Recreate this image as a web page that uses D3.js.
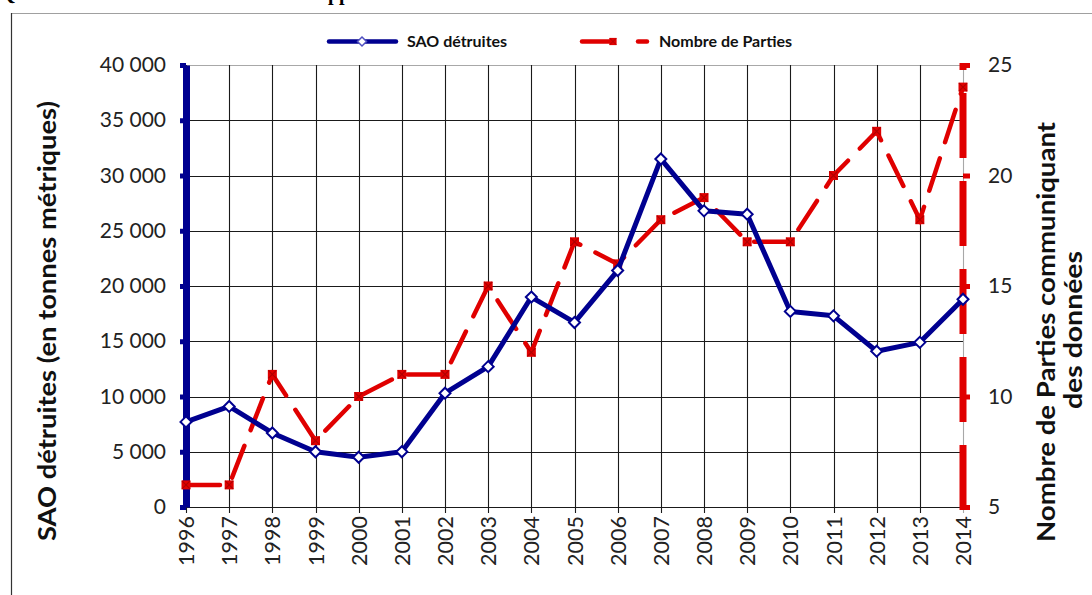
<!DOCTYPE html>
<html><head><meta charset="utf-8">
<script src="https://cdn.jsdelivr.net/npm/d3@7"></script>
<style>
body{margin:0;background:#fff;}
svg{display:block;}
</style></head>
<body>
<svg id="c" width="1092" height="595"></svg>
<script>
const years = ["1996","1997","1998","1999","2000","2001","2002","2003","2004","2005","2006","2007","2008","2009","2010","2011","2012","2013","2014"];
const saoDetruites = [7700,9100,6700,5000,4500,5000,10300,12700,19000,16700,21400,31500,26800,26500,17700,17300,14100,14900,18800];
const nombreParties = [6,6,11,8,10,11,11,15,12,17,16,18,19,17,17,20,22,18,24];
const leftTicks = [0,5000,10000,15000,20000,25000,30000,35000,40000];
const rightTicks = [5,10,15,20,25];
const seriesNames = ["SAO détruites","Nombre de Parties"];
const leftTitle = "SAO détruites (en tonnes métriques)";
const rightTitle = ["Nombre de Parties communiquant","des données"];

const NAVY = "#000090", RED = "#e00000";
const FONT = "Lato, 'Open Sans', sans-serif";
const svg = d3.select("#c");

const x = d3.scalePoint().domain(years).range([186, 963]);
const yL = d3.scaleLinear().domain([0, 40000]).range([507, 65]);
const yR = d3.scaleLinear().domain([5, 25]).range([507, 65]);

// partially clipped title (as in the reference)
svg.append("text").attr("x", 0).attr("y", 0).attr("font-family","'Liberation Serif',serif").attr("font-weight","bold").attr("font-size",20).text("Q");
svg.append("text").attr("x", 328).attr("y", 0).attr("font-family","'Liberation Serif',serif").attr("font-weight","bold").attr("font-size",20).text("pp");

// frame
svg.append("line").attr("x1",11).attr("x2",1092).attr("y1",13.5).attr("y2",13.5).attr("stroke","#a0a0a0").attr("stroke-width",1.2);
svg.append("line").attr("x1",11.5).attr("x2",11.5).attr("y1",13).attr("y2",595).attr("stroke","#333").attr("stroke-width",1.2);

// grid
const g = svg.append("g");
g.selectAll("line.h").data(leftTicks).join("line")
  .attr("x1", x("1996")).attr("x2", x("2014"))
  .attr("y1", d => Math.round(yL(d))+0.5).attr("y2", d => Math.round(yL(d))+0.5)
  .attr("stroke", d => d === 40000 ? "#a8a8a8" : "#1a1a1a").attr("stroke-width", 1.1);
g.selectAll("line.v").data(years).join("line")
  .attr("x1", d => Math.round(x(d))+0.5).attr("x2", d => Math.round(x(d))+0.5)
  .attr("y1", yL(40000)).attr("y2", yL(0)+6)
  .attr("stroke", d => d === "2014" ? "#a8a8a8" : "#1a1a1a").attr("stroke-width", 1.1);

// left axis (thick navy)
const axL = svg.append("g").attr("transform", `translate(${x("1996")},0)`)
  .call(d3.axisLeft(yL).tickValues(leftTicks).tickSize(5).tickSizeOuter(0)
    .tickFormat(d => d3.format(",")(d).replace(/,/g, "\u202F")));
axL.select(".domain").attr("stroke", NAVY).attr("stroke-width", 7);
axL.selectAll(".tick line").attr("stroke", NAVY).attr("stroke-width", 5).attr("x2", -6);
axL.selectAll(".tick text").attr("x", -20).attr("font-family", FONT).attr("font-size", 21).attr("fill", "#222");

// right axis (thick red dashed)
svg.append("path").attr("d", d3.line()([[x("2014"), yR(5)+3], [x("2014"), yR(25)-2]]))
  .attr("stroke", RED).attr("stroke-width", 7).attr("stroke-dasharray", "65,23").attr("fill", "none");
const axR = svg.append("g").attr("transform", `translate(${x("2014")},0)`)
  .call(d3.axisRight(yR).tickValues(rightTicks).tickSize(7).tickSizeOuter(0));
axR.select(".domain").remove();
axR.selectAll(".tick line").attr("stroke", RED).attr("stroke-width", 5);
axR.selectAll(".tick text").attr("x", 25).attr("font-family", FONT).attr("font-size", 21).attr("fill", "#222");

// x axis labels
const axB = svg.append("g").attr("transform", `translate(0,${yL(0)})`)
  .call(d3.axisBottom(x).tickSize(0));
axB.select(".domain").remove();
axB.selectAll(".tick text").attr("font-family", FONT).attr("font-size", 21.5).attr("fill", "#222")
  .attr("transform", "rotate(-90)").attr("text-anchor", "end").attr("dy", "0.35em").attr("x", -9).attr("y", 0);

// red series
const redLine = d3.line().x((d,i) => x(years[i])).y(d => yR(d));
svg.append("path").datum(nombreParties).attr("d", redLine)
  .attr("fill","none").attr("stroke", RED).attr("stroke-width", 4.5)
  .attr("stroke-dasharray","34,17").attr("stroke-linecap","round");
function redMarker(sel){
  sel.append("rect").attr("x",-4.5).attr("y",-4.5).attr("width",9).attr("height",9).attr("fill",RED);
  sel.append("path").attr("d","M-4,-4L4,4M4,-4L-4,4").attr("stroke","#b00000").attr("stroke-width",1.2);
}
svg.selectAll("g.rm").data(nombreParties).join("g")
  .attr("transform",(d,i)=>`translate(${x(years[i])},${yR(d)})`).call(redMarker);

// blue series
const blueLine = d3.line().x((d,i) => x(years[i])).y(d => yL(d));
svg.append("path").datum(saoDetruites).attr("d", blueLine)
  .attr("fill","none").attr("stroke", NAVY).attr("stroke-width", 5).attr("stroke-linejoin","round");
const diamond = "M0,-5.5L5.5,0L0,5.5L-5.5,0Z";
svg.selectAll("path.bm").data(saoDetruites).join("path")
  .attr("d", diamond).attr("transform",(d,i)=>`translate(${x(years[i])},${yL(d)})`)
  .attr("fill","#fff").attr("stroke",NAVY).attr("stroke-width",2);

// legend
const lg = svg.append("g");
lg.append("line").attr("x1",329).attr("x2",396).attr("y1",41.5).attr("y2",41.5).attr("stroke",NAVY).attr("stroke-width",4.5).attr("stroke-linecap","round");
lg.append("path").attr("d","M0,-4.5L4.5,0L0,4.5L-4.5,0Z").attr("transform","translate(362,41.5)").attr("fill","#fff").attr("stroke","#5050c0").attr("stroke-width",1.5);
lg.append("text").attr("x",407).attr("y",47).attr("font-family",FONT).attr("font-weight","bold").attr("font-size",16).attr("fill","#111").text(seriesNames[0]);
lg.append("line").attr("x1",582).attr("x2",612).attr("y1",41.5).attr("y2",41.5).attr("stroke",RED).attr("stroke-width",4.5).attr("stroke-linecap","round");
lg.append("g").attr("transform","translate(613,41.5) scale(0.8)").call(redMarker);
lg.append("line").attr("x1",638).attr("x2",647).attr("y1",41.5).attr("y2",41.5).attr("stroke",RED).attr("stroke-width",4.5).attr("stroke-linecap","round");
lg.append("text").attr("x",659).attr("y",47).attr("font-family",FONT).attr("font-weight","bold").attr("font-size",16).attr("fill","#111").text(seriesNames[1]);

// axis titles
svg.append("text").attr("transform","translate(56,321) rotate(-90)").attr("text-anchor","middle")
  .attr("font-family",FONT).attr("font-weight","bold").attr("font-size",25).attr("fill","#111")
  .attr("textLength",440).attr("lengthAdjust","spacingAndGlyphs").text(leftTitle);
svg.append("text").attr("transform","translate(1055,332) rotate(-90)").attr("text-anchor","middle")
  .attr("font-family",FONT).attr("font-weight","bold").attr("font-size",25).attr("fill","#111")
  .attr("textLength",420).attr("lengthAdjust","spacingAndGlyphs").text(rightTitle[0]);
svg.append("text").attr("transform","translate(1082,330) rotate(-90)").attr("text-anchor","middle")
  .attr("font-family",FONT).attr("font-weight","bold").attr("font-size",25).attr("fill","#111")
  .attr("textLength",158).attr("lengthAdjust","spacingAndGlyphs").text(rightTitle[1]);
</script>
</body></html>
